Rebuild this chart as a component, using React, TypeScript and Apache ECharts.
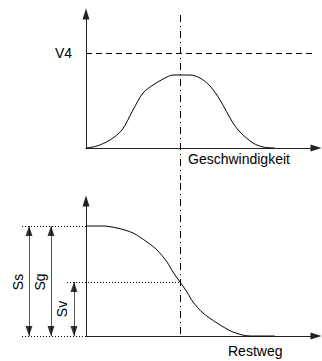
import React, { useEffect, useRef } from "react";
import * as echarts from "echarts";

// ---- Data (top: speed profile, bottom: remaining distance) ----
const speedX = [0, 11, 24, 36, 47, 57, 67, 81, 87, 104, 114, 124, 134, 147, 154, 167, 177, 189];
const speedY = [0, 2, 8, 18, 38, 55, 63, 71, 73, 73, 70, 62, 48, 25, 16, 5, 1, 0];

const distX = [0, 17, 31, 47, 61, 71, 81, 87, 94, 101, 107, 117, 131, 147, 164, 189];
const distY = [110, 110, 108, 103, 94, 86, 74, 64, 54, 44, 34, 23, 13, 4, 0, 0];

const V4_LEVEL = 95;
const MARK_X = 94; // dash-dot reference position
const SS = 110; // Ss / Sg level
const SV = 54; // Sv level

const X_MAX = 230;
const TOP_Y_MAX = 134;
const BOT_Y_MAX = 135;

const arrowLabels = ["Ss", "Sg", "Sv"];
const arrowX = [-57, -35, -12];
const arrowTop = [SS, SS, SV];
const labelX = [-68, -46, -24];
const labelY = [54, 54, 27];

const FONT = "'Liberation Sans', Arial, sans-serif";

function axisX(gridIndex: number, name: string, gap: number, padTop: number) {
  return {
    type: "value",
    gridIndex,
    min: 0,
    max: X_MAX,
    name,
    nameLocation: "end",
    nameGap: gap,
    nameTextStyle: {
      align: "left",
      verticalAlign: "top",
      padding: [padTop, 0, 0, 0],
      color: "#000",
      fontSize: 14,
      fontFamily: FONT,
    },
    axisLine: {
      show: true,
      onZero: false,
      symbol: ["none", "triangle"],
      symbolSize: [7, 11],
      lineStyle: { color: "#222", width: 1 },
    },
    axisTick: { show: false },
    axisLabel: { show: false },
    splitLine: { show: false },
  };
}

export default function App() {
  const ref = useRef<HTMLDivElement>(null);
  useEffect(() => {
    if (!ref.current) return;
    const chart = echarts.init(ref.current, null, { renderer: "svg" });
    const dashDot = [7, 4, 1, 4];
    const option: any = {
      animation: false,
      backgroundColor: "#fff",
      color: ["#000"],
      textStyle: { fontFamily: FONT },
      grid: [
        { left: 86, right: 6, top: 14, bottom: 213 },
        { left: 86, right: 6, top: 201, bottom: 25 },
      ],
      xAxis: [axisX(0, "Geschwindigkeit", -128, 4), axisX(1, "Restweg", -88, 8)],
      yAxis: [
        {
          type: "value",
          gridIndex: 0,
          min: 0,
          max: TOP_Y_MAX,
          interval: V4_LEVEL,
          axisLine: {
            show: true,
            onZero: false,
            symbol: ["none", "triangle"],
            symbolSize: [7, 11],
            lineStyle: { color: "#222", width: 1 },
          },
          axisTick: { show: false },
          axisLabel: {
            show: true,
            margin: 14,
            color: "#000",
            fontSize: 14,
            fontFamily: FONT,
            formatter: (v: number) => (v === V4_LEVEL ? "V4" : ""),
          },
          splitLine: { show: false },
        },
        {
          type: "value",
          gridIndex: 1,
          min: 0,
          max: BOT_Y_MAX,
          axisLine: {
            show: true,
            onZero: false,
            symbol: ["none", "triangle"],
            symbolSize: [7, 11],
            lineStyle: { color: "#222", width: 1 },
          },
          axisTick: { show: false },
          axisLabel: { show: false },
          splitLine: { show: false },
        },
      ],
      series: [
        {
          type: "line",
          xAxisIndex: 0,
          yAxisIndex: 0,
          data: speedX.map((x, i) => [x, speedY[i]]),
          smooth: 0.3,
          showSymbol: false,
          symbol: "none",
          lineStyle: { color: "#000", width: 1 },
          z: 3,
        },
        {
          type: "lines",
          coordinateSystem: "cartesian2d",
          xAxisIndex: 0,
          yAxisIndex: 0,
          clip: false,
          symbol: "none",
          data: [
            { coords: [[0, V4_LEVEL], [X_MAX, V4_LEVEL]], lineStyle: { type: [6, 4] } },
            { coords: [[MARK_X, 133], [MARK_X, -32]], lineStyle: { type: dashDot } },
          ],
          lineStyle: { color: "#000", width: 1, opacity: 1 },
          z: 2,
        },
        {
          type: "line",
          xAxisIndex: 1,
          yAxisIndex: 1,
          data: distX.map((x, i) => [x, distY[i]]),
          smooth: 0.3,
          showSymbol: false,
          symbol: "none",
          lineStyle: { color: "#000", width: 1 },
          z: 3,
        },
        {
          type: "lines",
          coordinateSystem: "cartesian2d",
          xAxisIndex: 1,
          yAxisIndex: 1,
          clip: false,
          symbol: "none",
          data: [
            { coords: [[MARK_X, 153], [MARK_X, 0]], lineStyle: { type: dashDot } },
            { coords: [[-64, SS], [0, SS]], lineStyle: { type: [1, 2] } },
            { coords: [[-64, 0], [0, 0]], lineStyle: { type: [1, 2] } },
            { coords: [[-19, SV], [MARK_X, SV]], lineStyle: { type: [1, 2] } },
          ],
          lineStyle: { color: "#000", width: 1, opacity: 1 },
          z: 2,
        },
        {
          type: "lines",
          coordinateSystem: "cartesian2d",
          xAxisIndex: 1,
          yAxisIndex: 1,
          clip: false,
          symbol: "none",
          data: arrowX.map((x, i) => ({ coords: [[x, 0], [x, arrowTop[i]]] })),
          lineStyle: { color: "#555", width: 1, opacity: 1, type: "solid" },
          z: 2,
        },
        {
          type: "scatter",
          xAxisIndex: 1,
          yAxisIndex: 1,
          clip: false,
          symbol: "triangle",
          symbolSize: [7, 10],
          itemStyle: { color: "#000" },
          data: arrowX.flatMap((x, i) => [
            { value: [x, arrowTop[i]], symbolRotate: 0, symbolOffset: [0, 5] },
            { value: [x, 0], symbolRotate: 180, symbolOffset: [0, -5] },
          ]),
          z: 4,
        },
        {
          type: "scatter",
          xAxisIndex: 1,
          yAxisIndex: 1,
          clip: false,
          symbolSize: 0.1,
          itemStyle: { color: "#000", opacity: 0 },
          label: {
            show: true,
            position: "inside",
            rotate: 90,
            color: "#000",
            opacity: 1,
            textBorderWidth: 0,
            textBorderColor: "transparent",
            fontSize: 14,
            fontFamily: FONT,
            formatter: (p: any) => arrowLabels[p.dataIndex],
          },
          data: labelX.map((x, i) => [x, labelY[i]]),
          z: 4,
        },
      ],
    };
    chart.setOption(option);
    return () => chart.dispose();
  }, []);
  return (
    <div
      ref={ref}
      style={{ position: "fixed", left: 0, top: 0, width: 322, height: 361, background: "#fff" }}
    />
  );
}
